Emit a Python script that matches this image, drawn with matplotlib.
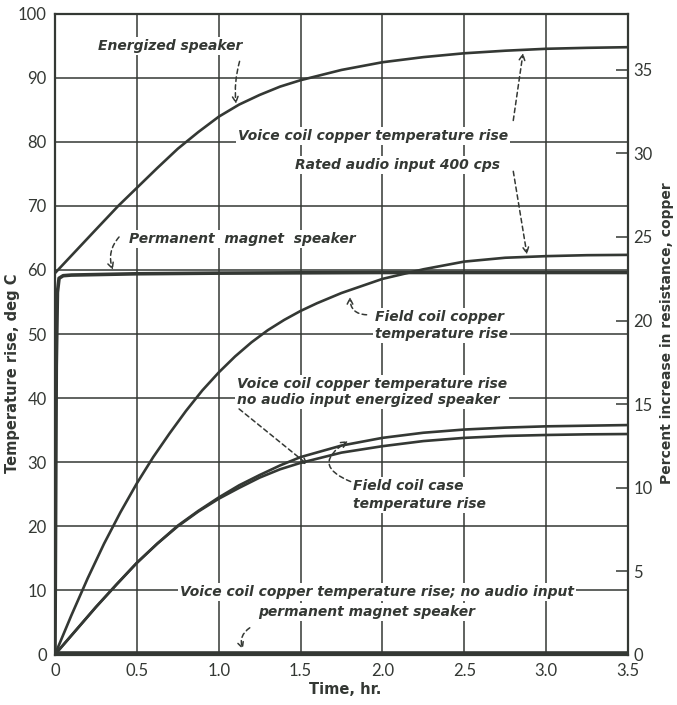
import matplotlib
matplotlib.use('Agg')
import matplotlib.pyplot as plt

plt.rcParams['font.family'] = ['Lato', 'DejaVu Sans']

INK = '#343834'

# time axis (hr) for each curve, values in deg C
t_energized = [0, 0.125, 0.25, 0.387, 0.5, 0.625, 0.75, 0.875, 1.0, 1.125, 1.25, 1.375,
               1.5, 1.75, 2.0, 2.25, 2.5, 2.75, 3.0, 3.25, 3.5]
energized = [59.5, 62.9, 66.3, 70.0, 72.8, 75.9, 78.9, 81.5, 83.9, 85.8, 87.3, 88.6,
             89.6, 91.2, 92.4, 93.2, 93.8, 94.2, 94.5, 94.65, 94.75]

t_pm = [0, 0.008, 0.015, 0.025, 0.05, 0.1, 0.5, 1.0, 2.0, 3.0, 3.5]
pm = [0, 45.0, 56.5, 58.7, 59.1, 59.2, 59.4, 59.5, 59.6, 59.6, 59.6]

t_field = [0, 0.1, 0.2, 0.3, 0.4, 0.5, 0.6, 0.7, 0.8, 0.9, 1.0, 1.1, 1.2, 1.3, 1.4, 1.5,
           1.6, 1.75, 2.0, 2.25, 2.5, 2.75, 3.0, 3.25, 3.5]
field_copper = [0, 6.1, 11.9, 17.3, 22.2, 26.7, 30.8, 34.5, 38.0, 41.2, 44.0, 46.5, 48.7,
                50.6, 52.2, 53.6, 54.8, 56.4, 58.6, 60.1, 61.3, 61.9, 62.15, 62.3, 62.35]

t_low = [0, 0.125, 0.25, 0.375, 0.5, 0.625, 0.75, 0.875, 1.0, 1.125, 1.25, 1.375, 1.5,
         1.75, 2.0, 2.25, 2.5, 2.75, 3.0, 3.25, 3.5]
vc_no_audio = [0, 3.7, 7.4, 10.9, 14.3, 17.3, 20.1, 22.4, 24.5, 26.4, 28.0, 29.5, 30.8,
               32.6, 33.8, 34.6, 35.1, 35.4, 35.6, 35.7, 35.8]
field_case = [0, 3.7, 7.4, 10.9, 14.3, 17.3, 20.0, 22.3, 24.3, 26.0, 27.6, 28.9, 29.9,
              31.5, 32.5, 33.3, 33.8, 34.1, 34.25, 34.35, 34.4]

t_pm_no_audio = [0, 3.5]
pm_no_audio = [0.3, 0.3]

x_ticks = [0, 0.5, 1.0, 1.5, 2.0, 2.5, 3.0, 3.5]
x_labels = ['0', '0.5', '1.0', '1.5', '2.0', '2.5', '3.0', '3.5']
y_ticks = list(range(0, 101, 10))
pct_ticks = [0, 5, 10, 15, 20, 25, 30, 35]
pct_top = 38.38  # percent at 100 deg C

fig = plt.figure(figsize=(6.77, 7.05), dpi=100)
ax = fig.add_axes([0.0812, 0.0716, 0.8464, 0.9092])
ax.set_xlim(0, 3.5)
ax.set_ylim(0, 100)

ax.set_xticks(x_ticks)
ax.set_xticklabels(x_labels)
ax.set_yticks(y_ticks)
ax.tick_params(length=0, labelsize=12, colors=INK, pad=6)
ax.grid(True, color=INK, lw=1.1)
ax.set_axisbelow(True)
for s in ax.spines.values():
    s.set_color(INK)
    s.set_linewidth(1.6)

kw = dict(color=INK, solid_joinstyle='round', solid_capstyle='round')
ax.plot(t_energized, energized, lw=1.9, **kw)
ax.plot(t_pm, pm, lw=2.6, **kw)
ax.plot(t_field, field_copper, lw=1.9, **kw)
ax.plot(t_low, vc_no_audio, lw=1.9, **kw)
ax.plot(t_low, field_case, lw=1.9, **kw)
ax.plot(t_pm_no_audio, pm_no_audio, lw=2.6, **kw)

ax2 = ax.twinx()
ax2.set_ylim(0, pct_top)
ax2.set_yticks(pct_ticks)
ax2.tick_params(direction='in', length=9, width=1.1, labelsize=12, colors=INK, pad=4)
for s in ax2.spines.values():
    s.set_visible(False)

txt = dict(color=INK, fontsize=10, family='DejaVu Sans', style='oblique',
           fontweight='bold',
           bbox=dict(facecolor='white', edgecolor='none', pad=1.5), zorder=5)

ax.text(0.702, 94.9, 'Energized speaker', ha='center', va='center', **txt)
ax.text(1.943, 80.9, 'Voice coil copper temperature rise', ha='center', va='center', **txt)
ax.text(2.095, 76.4, 'Rated audio input 400 cps', ha='center', va='center', **txt)
ax.text(1.142, 64.8, 'Permanent  magnet  speaker', ha='center', va='center', **txt)
ax.text(1.955, 51.3, 'Field coil copper\ntemperature rise', ha='left', va='center',
        linespacing=1.3, **txt)
ax.text(1.112, 41.0, 'Voice coil copper temperature rise\nno audio input energized speaker',
        ha='left', va='center', linespacing=1.15, **txt)
ax.text(1.820, 24.9, 'Field coil case\ntemperature rise', ha='left', va='center',
        linespacing=1.35, **txt)
ax.text(1.967, 9.75, 'Voice coil copper temperature rise; no audio input',
        ha='center', va='center', **txt)
ax.text(1.906, 6.63, 'permanent magnet speaker', ha='center', va='center', **txt)

arrows = [
    ((1.130, 92.75), (1.106, 85.9), 0.1),
    ((2.798, 83.1), (2.859, 93.85), 0.0),
    ((2.798, 75.6), (2.883, 62.4), 0.0),
    ((0.397, 65.3), (0.354, 60.0), 0.3),
    ((1.912, 53.0), (1.802, 55.8), -0.5),
    ((1.118, 38.45), (1.545, 29.6), 0.0),
    ((1.814, 26.9), (1.790, 33.3), -1.0),
    ((1.197, 4.29), (1.148, 0.8), 0.4),
]
for start, tip, rad in arrows:
    ax.annotate('', xy=tip, xytext=start, zorder=6,
                arrowprops=dict(arrowstyle='->', color=INK, lw=1.1,
                                linestyle=(0, (3, 2.2)), shrinkA=1, shrinkB=0,
                                connectionstyle='arc3,rad=%s' % rad))

lab = dict(family='DejaVu Sans', fontweight='bold', color=INK, ha='center', va='center')
fig.text(0.018, 0.47, 'Temperature rise, deg C', rotation=90, fontsize=10.5, **lab)
fig.text(0.985, 0.527, 'Percent increase in resistance, copper', rotation=90,
         fontsize=10, **lab)
fig.text(0.51, 0.022, 'Time, hr.', fontsize=10.5, **lab)

fig.savefig('out.png', dpi=100, facecolor='white')
